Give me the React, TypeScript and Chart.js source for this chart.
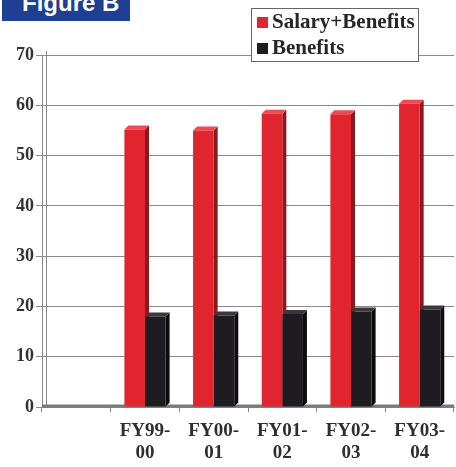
import React, { useEffect, useRef } from "react";
import { Chart, registerables } from "chart.js";

Chart.register(...registerables);

const categories: (string | string[])[] = ["", ["FY99-", "00"], ["FY00-", "01"], ["FY01-", "02"], ["FY02-", "03"], ["FY03-", "04"]];
const salaryBenefits: (number | null)[] = [null, 55.2, 55.0, 58.3, 58.2, 60.3];
const benefits: (number | null)[] = [null, 18.0, 18.2, 18.5, 19.0, 19.4];
const seriesNames = ["Salary+Benefits", "Benefits"];
const yTicks = [0, 10, 20, 30, 40, 50, 60, 70];

const FRONT = ["#e1252e", "#1e1b21"];
const SIDE = ["#8a1a20", "#0c0b0e"];
const TOP = ["#ee4a52", "#3a373d"];

const bar3d = {
  id: "bar3d",
  beforeDatasetsDraw(chart: any) {
    const ctx = chart.ctx;
    const d = 4;
    chart.data.datasets.forEach((ds: any, i: number) => {
      const meta = chart.getDatasetMeta(i);
      meta.data.forEach((el: any, j: number) => {
        if (ds.data[j] == null) return;
        const { x, y, base, width } = el.getProps(["x", "y", "base", "width"], true);
        const l = x - width / 2;
        const r = x + width / 2;
        ctx.save();
        ctx.fillStyle = SIDE[i];
        ctx.beginPath();
        ctx.moveTo(r, y);
        ctx.lineTo(r + d, y - d);
        ctx.lineTo(r + d, base - d);
        ctx.lineTo(r, base);
        ctx.closePath();
        ctx.fill();
        ctx.fillStyle = TOP[i];
        ctx.beginPath();
        ctx.moveTo(l, y);
        ctx.lineTo(l + d, y - d);
        ctx.lineTo(r + d, y - d);
        ctx.lineTo(r, y);
        ctx.closePath();
        ctx.fill();
        ctx.restore();
      });
    });
  },
};

const frame = {
  id: "frame",
  beforeDatasetsDraw(chart: any) {
    const { ctx, chartArea } = chart;
    ctx.save();
    ctx.strokeStyle = "#8a8a8a";
    ctx.lineWidth = 1;
    ctx.beginPath();
    ctx.moveTo(chartArea.left + 4.5, chartArea.top - 4);
    ctx.lineTo(chartArea.left + 4.5, chartArea.bottom - 2);
    ctx.stroke();
    ctx.strokeStyle = "#7a7a7a";
    ctx.lineWidth = 3;
    ctx.beginPath();
    ctx.moveTo(chartArea.left, chartArea.bottom - 1);
    ctx.lineTo(chartArea.right, chartArea.bottom - 1);
    ctx.stroke();
    ctx.restore();
  },
};

const legendBox = {
  id: "legendBox",
  afterDraw(chart: any) {
    const ctx = chart.ctx;
    ctx.save();
    const bx = 251, by = 8, bw = 167, bh = 53;
    ctx.fillStyle = "#ffffff";
    ctx.fillRect(bx, by, bw, bh);
    ctx.strokeStyle = "#666";
    ctx.lineWidth = 1;
    ctx.strokeRect(bx + 0.5, by + 0.5, bw, bh);
    ctx.font = "bold 21px 'Liberation Serif'";
    ctx.textBaseline = "middle";
    chart.data.datasets.forEach((ds: any, i: number) => {
      const cy = by + 14 + i * 26;
      ctx.fillStyle = FRONT[i];
      ctx.fillRect(bx + 6, cy - 5, 11, 11);
      ctx.fillStyle = "#262626";
      ctx.fillText(ds.label, bx + 21, cy + 1);
    });
    ctx.restore();
  },
};

export default function App() {
  const ref = useRef<HTMLCanvasElement>(null);
  useEffect(() => {
    document.body.style.margin = "0";
    const chart = new Chart(ref.current!, {
      type: "bar",
      data: {
        labels: categories,
        datasets: [
          { label: seriesNames[0], data: salaryBenefits, backgroundColor: FRONT[0], categoryPercentage: 0.6, barPercentage: 1 },
          { label: seriesNames[1], data: benefits, backgroundColor: FRONT[1], categoryPercentage: 0.6, barPercentage: 1 },
        ],
      },
      options: {
        animation: false,
        responsive: false,
        maintainAspectRatio: false,
        layout: { padding: { top: 55, right: 2, left: 0, bottom: 0 } },
        plugins: { legend: { display: false }, tooltip: { enabled: false } },
        scales: {
          x: {
            afterFit: (s: any) => { s.height = 60; },
            grid: { offset: true, drawOnChartArea: false, drawTicks: true, tickLength: 5, color: "#888" },
            border: { color: "#888" },
            ticks: {
              color: "#2e2e2e",
              font: { family: "'Liberation Serif'", size: 19, weight: "bold", lineHeight: 1.15 },
              padding: 8,
              maxRotation: 0,
              autoSkip: false,
            },
          },
          y: {
            min: 0,
            max: 70,
            afterFit: (s: any) => { s.width = 42; },
            afterBuildTicks: (s: any) => { s.ticks = yTicks.map((v) => ({ value: v })); },
            grid: { color: "#8a8a8a", tickLength: 6, lineWidth: 1 },
            border: { color: "#888" },
            ticks: {
              color: "#333",
              font: { family: "'Liberation Serif'", size: 18, weight: "bold" },
              padding: 2,
            },
          },
        },
      },
      plugins: [frame, bar3d, legendBox],
    });
    return () => chart.destroy();
  }, []);
  return (
    <div style={{ position: "fixed", left: 0, top: 0, width: 456, height: 467, background: "#fff" }}>
      <canvas ref={ref} width={456} height={467} style={{ display: "block" }} />
      <div
        style={{
          position: "absolute",
          left: 2,
          top: 0,
          width: 128,
          height: 21,
          background: "#1f3f93",
          overflow: "hidden",
        }}
      >
        <div
          style={{
            position: "absolute",
            left: 20,
            top: -11,
            color: "#fff",
            fontFamily: "'Liberation Sans', Arial, sans-serif",
            fontWeight: "bold",
            fontSize: 24,
            lineHeight: "28px",
            whiteSpace: "nowrap",
          }}
        >
          Figure B
        </div>
      </div>
    </div>
  );
}
